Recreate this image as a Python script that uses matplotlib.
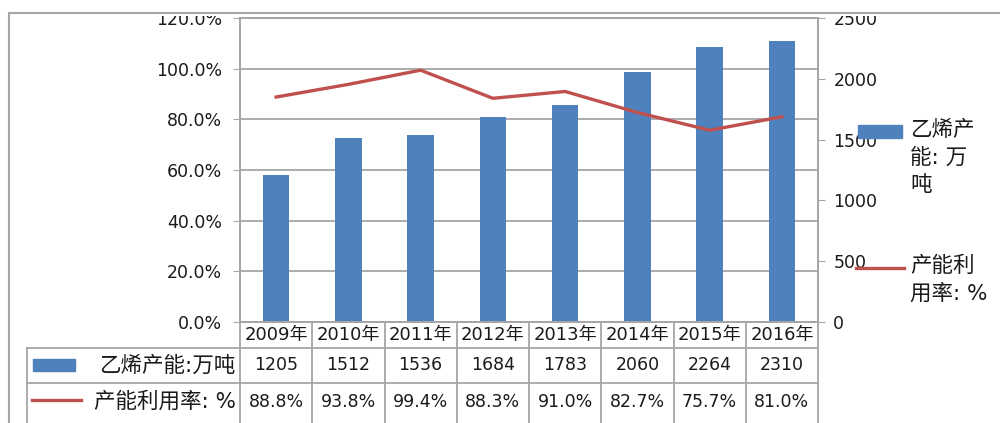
import numpy as np
import matplotlib.pyplot as plt
import matplotlib.transforms as mtransforms
from matplotlib.patches import Rectangle
from matplotlib.lines import Line2D
from matplotlib.ticker import PercentFormatter

plt.rcParams['font.family'] = ['DejaVu Sans', 'Noto Sans CJK SC']

# data
years = ['2009年', '2010年', '2011年', '2012年', '2013年', '2014年', '2015年', '2016年']
capacity = [1205, 1512, 1536, 1684, 1783, 2060, 2264, 2310]          # 万吨
utilization = [88.8, 93.8, 99.4, 88.3, 91.0, 82.7, 75.7, 81.0]     # %
cap_label = '乙烯产能:万吨'
util_label = '产能利用率: %'

BLUE = '#4F81BD'
RED = '#C0504D'
GRID = '#a6a6a6'
TXT = '#1a1a1a'
W, H = 1000, 423

fig = plt.figure(figsize=(10, 4.23), dpi=100)
ax = fig.add_axes([240 / W, (H - 322) / H, 578 / W, 304 / H])
ax2 = ax.twinx()

x = np.arange(len(years))

# bars on the capacity scale (right)
ax.bar(x, capacity, width=0.37, color=BLUE, zorder=2)
ax.set_ylim(0, 2500)
ax.set_yticks(np.arange(0, 2501, 500))
ax.yaxis.tick_right()
ax.set_yticks(np.linspace(0, 2500, 7), minor=True)
ax.grid(True, which='minor', axis='y', color=GRID, lw=1.3)
ax.set_axisbelow(True)
ax.tick_params(axis='y', which='minor', length=0)
ax.tick_params(axis='y', which='major', direction='out', length=5, color=GRID,
               labelsize=12.5, labelcolor=TXT, pad=6)
ax.set_xlim(-0.5, len(years) - 0.5)
ax.set_xticks([])

# line on the percent scale (left)
ax2.plot(x, utilization, color=RED, lw=2.4, zorder=3)
ax2.set_ylim(0, 120)
ax2.set_yticks(np.arange(0, 121, 20))
ax2.yaxis.tick_left()
ax2.yaxis.set_major_formatter(PercentFormatter(xmax=100, decimals=1))
ax2.tick_params(axis='y', direction='out', length=5, color=GRID,
                labelsize=12.5, labelcolor=TXT, pad=8)

for a in (ax, ax2):
    for s in a.spines.values():
        s.set_color(GRID)
        s.set_linewidth(1.3)

# data table under the axes
tr = mtransforms.blended_transform_factory(ax.transData, ax.transAxes)
n = len(years)
left = -3.45
row_y = [0, -0.085, -0.2, -0.34]
lkw = dict(color=GRID, lw=1.3, transform=tr, clip_on=False)
ax.plot([left, n - 0.5], [row_y[1]] * 2, **lkw)
ax.plot([left, n - 0.5], [row_y[2]] * 2, **lkw)
ax.plot([left, left], [row_y[1], row_y[3]], **lkw)
for k in range(n + 1):
    ax.plot([k - 0.5, k - 0.5], [0, row_y[3]], **lkw)

for i in range(n):
    ax.text(i, -0.043, years[i], transform=tr, ha='center', va='center',
            fontsize=13, color=TXT)
    ax.text(i, -0.142, str(capacity[i]), transform=tr, ha='center', va='center',
            fontsize=12.5, color=TXT)
    ax.text(i, -0.262, f'{utilization[i]:.1f}%', transform=tr, ha='center',
            va='center', fontsize=12.5, color=TXT)

ax.add_patch(Rectangle((-3.36, -0.162), 0.58, 0.04, color=BLUE, transform=tr,
                       clip_on=False))
ax.text(-0.56, -0.142, cap_label, transform=tr, ha='right', va='center',
        fontsize=15.5, color=TXT)
ax.plot([-3.38, -2.7], [-0.258, -0.258], color=RED, lw=2.4, transform=tr,
        clip_on=False)
ax.text(-0.56, -0.262, util_label, transform=tr, ha='right', va='center',
        fontsize=15.5, color=TXT)

# legend on the right
ff = fig.transFigure
fig.add_artist(Rectangle((858 / W, 1 - 138 / H), 44 / W, 13 / H, color=BLUE,
                         transform=ff))
fig.text(910 / W, 1 - 120 / H, '乙烯产\n能: 万\n吨', va='top', ha='left',
         fontsize=15.5, color=TXT, linespacing=1.45)
fig.add_artist(Line2D([856 / W, 904 / W], [1 - 268 / H] * 2, color=RED, lw=2.4,
                      transform=ff))
fig.text(910 / W, 1 - 256 / H, '产能利\n用率: %', va='top', ha='left',
         fontsize=15.5, color=TXT, linespacing=1.45)

# outer chart border
fig.add_artist(Line2D([9 / W, 1], [1 - 13 / H] * 2, color=GRID, lw=1.5, transform=ff))
fig.add_artist(Line2D([9 / W, 9 / W], [0, 1 - 13 / H], color=GRID, lw=1.5, transform=ff))

# clip the top tick labels at the chart border, like the original
fig.canvas.draw()
clip = mtransforms.TransformedBbox(mtransforms.Bbox([[0, 0], [1, 1 - 16 / H]]), ff)
for lab in ax.get_yticklabels() + ax2.get_yticklabels():
    lab.set_clip_box(clip)
    lab.set_clip_on(True)

fig.savefig('out.png', dpi=100)
